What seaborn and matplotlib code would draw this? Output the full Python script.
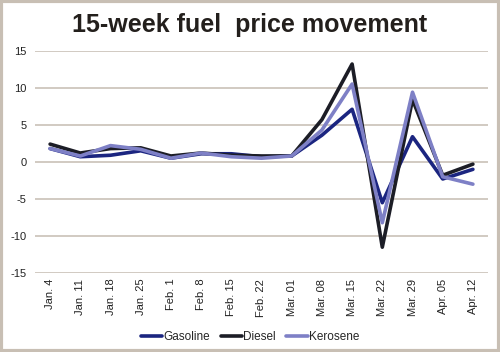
import pandas as pd
import numpy as np
import matplotlib.pyplot as plt
import seaborn as sns
from matplotlib.patches import Rectangle

# weeks and weekly price change per fuel
weeks = ['Jan. 4', 'Jan. 11', 'Jan. 18', 'Jan. 25', 'Feb. 1', 'Feb. 8', 'Feb. 15',
         'Feb. 22', 'Mar. 01', 'Mar. 08', 'Mar. 15', 'Mar. 22', 'Mar. 29', 'Apr. 05', 'Apr. 12']
gasoline = [1.8, 0.7, 0.9, 1.5, 0.5, 1.1, 1.1, 0.7, 0.8, 3.6, 7.1, -5.5, 3.4, -2.3, -1.0]
diesel = [2.4, 1.2, 1.8, 1.9, 0.8, 1.2, 0.9, 0.8, 0.8, 5.7, 13.2, -11.5, 8.4, -1.8, -0.3]
kerosene = [1.8, 0.8, 2.2, 1.7, 0.5, 1.2, 0.7, 0.5, 0.8, 4.3, 10.5, -8.2, 9.4, -2.0, -3.0]

fuels = ['Gasoline', 'Diesel', 'Kerosene']
colors = {'Gasoline': '#1b2580', 'Diesel': '#1c1d26', 'Kerosene': '#7e80c6'}

df = pd.DataFrame({'week': weeks * 3,
                   'value': gasoline + diesel + kerosene,
                   'fuel': np.repeat(fuels, len(weeks))})

sns.set_style('white')
plt.rcParams['font.family'] = ['Liberation Sans', 'DejaVu Sans']
plt.rcParams['axes.unicode_minus'] = False

fig = plt.figure(figsize=(5, 3.52), dpi=100)
ax = fig.add_axes([0.07, 0.224, 0.906, 0.632])

sns.lineplot(data=df, x='week', y='value', hue='fuel', palette=colors,
             linewidth=2.6, ax=ax, sort=False)

ax.set_xlim(-0.5, len(weeks) - 0.5)
ax.set_ylim(-15, 15)
ax.set_yticks(range(-15, 16, 5))
ax.yaxis.grid(True, color='#c9c1b8', linewidth=1.2)
ax.set_axisbelow(True)
for s in ax.spines.values():
    s.set_visible(False)
ax.tick_params(axis='both', length=0, labelsize=8, colors='#222222')
ax.tick_params(axis='y', pad=6)
ax.tick_params(axis='x', pad=4)
plt.setp(ax.get_xticklabels(), rotation=90)
ax.set_xlabel('')
ax.set_ylabel('')

# legend below the axis, centred on the figure
handles, labels = ax.get_legend_handles_labels()
ax.get_legend().remove()
leg = fig.legend(handles, labels, loc='center', bbox_to_anchor=(0.5, 0.043), ncol=3,
                 frameon=False, fontsize=8.5, handlelength=1.8, handletextpad=0.1,
                 columnspacing=0.9)
for line in leg.get_lines():
    line.set_linewidth(2.6)

fig.text(0.5, 0.93, '15-week fuel  price movement', ha='center', va='center',
         fontsize=18, fontweight='heavy', color='#231f1c')

fig.patches.append(Rectangle((0.002, 0.003), 0.996, 0.994, transform=fig.transFigure,
                             fill=False, edgecolor='#c8bfb4', linewidth=3))

fig.savefig('out.png', dpi=100)
